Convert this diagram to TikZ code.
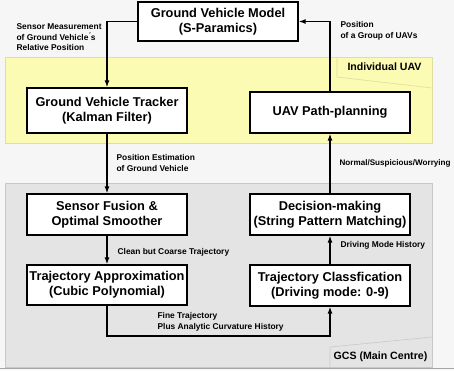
\documentclass[tikz,border=0pt]{standalone}
\usepackage{fontspec}
\setmainfont{Liberation Sans}
\usetikzlibrary{arrows.meta}
\definecolor{bgpage}{RGB}{246,246,246}
\definecolor{uavfill}{RGB}{251,251,180}
\definecolor{uavline}{RGB}{222,222,160}
\definecolor{gcsfill}{RGB}{228,228,228}
\definecolor{gcsline}{RGB}{200,200,200}
\begin{document}
\begin{tikzpicture}[x=1pt,y=-1pt,line width=1.2pt,>={Latex[length=7pt,width=5pt]}]
                \tikzstyle{block}=[rectangle,draw=black,fill=white,line width=1.3pt,minimum width=160pt,align=center,inner sep=2pt,font=\fontsize{12.8}{15}\selectfont\bfseries]
                \tikzstyle{note}=[anchor=west,align=left,inner sep=0pt,font=\fontsize{8.4}{10.5}\selectfont\bfseries]
                \tikzstyle{area}=[anchor=center,inner sep=0pt,font=\fontsize{10.6}{12}\selectfont\bfseries]

                % regions
                \useasboundingbox (0,0) rectangle (454,370);
                \fill[bgpage] (0,0) rectangle (454,370);
                \filldraw[fill=uavfill,draw=uavline,line width=0.6pt] (5,57) rectangle (432,143);
                \filldraw[fill=gcsfill,draw=gcsline,line width=0.6pt] (5,183) rectangle (432,367);
                \draw[uavline,line width=0.6pt] (337,57) -- (337,77) -- (432,88);
                \draw[gcsline,line width=0.6pt] (330,367) -- (330,347) -- (432,337);
                \draw[gray!70,line width=0.8pt] (0,368.5) -- (454,368.5);
                \node[area] (uavtag) at (384.5,67) {Individual UAV};
                \node[area] (gcstag) at (380.5,357) {GCS (Main Centre)};

                % blocks
                \foreach \num/\x/\y/\h/\txt in {gvm/218/21.5/39/Ground Vehicle Model\\(S-Paramics),
                        tracker/107/110.5/45/Ground Vehicle Tracker\\(Kalman Filter),
                        uav/330/112.5/41/UAV Path-planning,
                        fusion/107/214.5/41/Sensor Fusion \&\\Optimal Smoother,
                        decision/330/214.5/41/Decision-making\\(String Pattern Matching),
                        approx/107/285/40/Trajectory Approximation\\(Cubic Polynomial),
                        classif/330/285.5/41/Trajectory Classfication\\(Driving mode: 0-9)}
                        \node[block,minimum height=\h pt] (B-\num) at (\x,\y) {\txt};

                \coordinate (low) at (218,336);

                \draw[->] (B-gvm.west) -| (B-tracker.north);
                \draw[->] (B-uav.north) |- (B-gvm.east);
                \foreach \from/\to in {tracker/fusion, fusion/approx, classif/decision, decision/uav}
                        \draw[->] (B-\from) -- (B-\to);
                \draw[->] (B-approx.south) |- (low) -| (B-classif.south);

                % labels
                \node[note] (L-meas) at (16,37.5) {Sensor Measurement\\of Ground Vehicle\'{}s\\Relative Position};
                \node[note] (L-group) at (340,31) {Position\\of a Group of UAVs};
                \node[note] (L-est) at (116,163) {Position Estimation\\of Ground Vehicle};
                \node[note,font=\fontsize{8.1}{10}\selectfont\bfseries] (L-mode) at (339,163) {Normal/Suspicious/Worrying};
                \node[note] (L-coarse) at (117,252) {Clean but Coarse Trajectory};
                \node[note] (L-hist) at (340,245) {Driving Mode History};
                \node[note] (L-fine) at (157,322) {Fine Trajectory\\Plus Analytic Curvature History};
            \end{tikzpicture}
\end{document}
